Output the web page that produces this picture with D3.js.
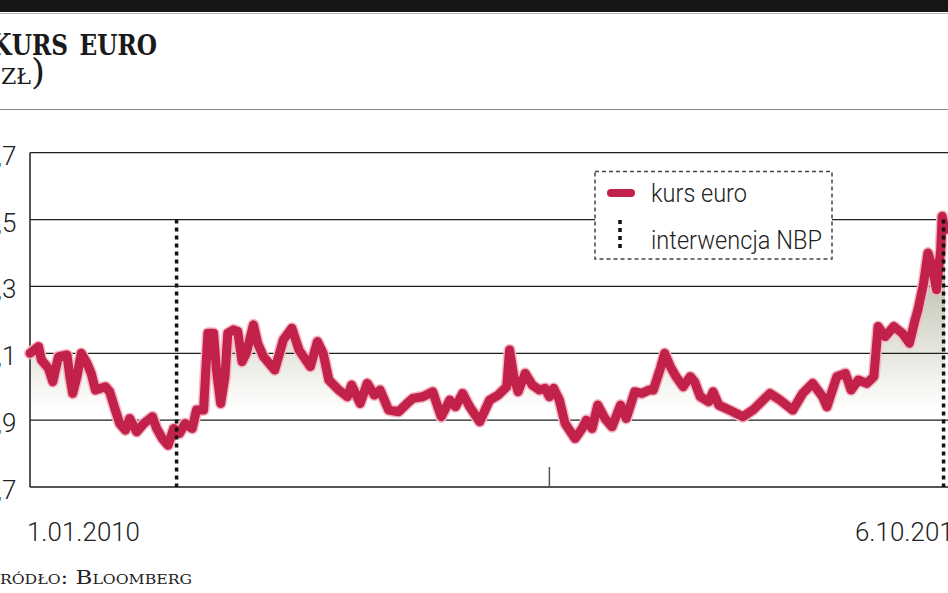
<!DOCTYPE html>
<html><head><meta charset="utf-8">
<script src="https://cdn.jsdelivr.net/npm/d3@7"></script>
<style>
html,body{margin:0;padding:0;background:#fff;overflow:hidden}
svg{display:block}
</style></head>
<body><svg id="c" width="948" height="593"></svg>
<script>
// ---- data (days since 1.01.2010, EUR/PLN) ----
const startDate = "2010-01-01";
const endDate = "2011-10-06";
const days = [0,6,8,13,16,20,26,28,30,33,36,40,43,46,53,56,60,63,67,70,75,80,86,89,93,97,101,105,109,114,117,122,125,129,131,134,137,139,143,146,149,152,157,160,164,172,178,184,189,197,202,206,210,217,223,226,232,237,242,246,252,259,265,269,276,283,289,295,299,304,309,316,323,329,335,337,340,343,348,353,358,362,365,368,372,376,383,388,391,395,399,404,409,415,419,425,430,435,438,443,446,450,454,459,464,467,471,477,480,484,489,494,501,508,520,527,536,543,550,557,560,567,573,577,582,588,593,596,601,607,613,618,622,624,628,631,634,637,640,641,643];
const values = [4.10,4.12,4.08,4.055,4.015,4.09,4.095,4.03,3.98,4.03,4.10,4.07,4.04,3.99,4.00,3.985,3.93,3.89,3.87,3.905,3.865,3.89,3.91,3.875,3.845,3.825,3.875,3.86,3.89,3.875,3.93,3.93,4.16,4.16,4.05,3.95,4.03,4.16,4.17,4.165,4.075,4.10,4.185,4.13,4.09,4.05,4.14,4.175,4.11,4.06,4.135,4.10,4.02,3.99,3.97,4.005,3.95,4.01,3.975,3.99,3.93,3.925,3.95,3.965,3.97,3.985,3.91,3.96,3.94,3.98,3.94,3.895,3.96,3.975,4.00,4.11,4.03,3.985,4.04,4.005,3.99,3.995,3.97,3.995,3.96,3.89,3.845,3.875,3.90,3.875,3.945,3.905,3.88,3.945,3.905,3.985,3.98,3.99,3.99,4.055,4.10,4.06,4.03,4.00,4.03,4.015,3.97,3.955,3.985,3.945,3.935,3.925,3.91,3.93,3.98,3.96,3.93,3.98,4.01,3.97,3.94,4.03,4.04,3.99,4.02,4.01,4.03,4.18,4.15,4.18,4.16,4.13,4.20,4.23,4.31,4.40,4.36,4.29,4.41,4.51,4.47];
const interventionDays = [103, 642];
const yTicks = [3.7,3.9,4.1,4.3,4.5,4.7];
const yTickLabels = ["3,7","3,9","4,1","4,3","4,5","4,7"];
const yearTickDate = "2011-01-01";
const xLabels = ["1.01.2010","6.10.2011"];
const titleText = ["K","urs euro"];
const unitText = ["(","zł",")"];
const sourceText = "Źródło: Bloomberg";
const legendLabels = ["kurs euro","interwencja NBP"];

// ---- helpers ----
const parse = d3.utcParse("%Y-%m-%d");
const t0 = parse(startDate);
const dayToDate = d => d3.utcDay.offset(t0, d);
const series = days.map((d,i)=>({date: dayToDate(d), v: values[i]}));

const svg = d3.select("#c");
const W = 948;
const x = d3.scaleUtc().domain([t0, parse(endDate)]).range([30, 945]);
const y = d3.scaleLinear().domain([3.7, 4.7]).range([487, 152.7]);

const labelFont = "Roboto, 'Liberation Sans', sans-serif";

// top bar and header
svg.append("rect").attr("x",0).attr("y",0).attr("width",W).attr("height",12).attr("fill","#161616");
svg.append("line").attr("x1",0).attr("x2",W).attr("y1",13.5).attr("y2",13.5).attr("stroke","#bbb").attr("stroke-width",1);

const title = svg.append("text").attr("x",-10).attr("y",55)
  .attr("font-family","'DejaVu Serif', serif").attr("font-weight","bold")
  .attr("font-size",30).attr("fill","#1a1a1a")
  .attr("textLength",167).attr("lengthAdjust","spacingAndGlyphs");
title.append("tspan").text(titleText[0]);
title.append("tspan").attr("font-size",40).style("font-variant","small-caps").text(titleText[1]);

const unit = svg.append("text").attr("x",-13).attr("y",84)
  .attr("font-family","'DejaVu Serif', serif").attr("fill","#1a1a1a").attr("font-size",30);
unit.append("tspan").attr("font-size",36).text(unitText[0]);
unit.append("tspan").style("font-variant","small-caps").attr("font-size",31).text(unitText[1]);
unit.append("tspan").attr("font-size",36).text(unitText[2]);

svg.append("line").attr("x1",0).attr("x2",W).attr("y1",109.5).attr("y2",109.5).attr("stroke","#8a8a8a").attr("stroke-width",1.2);

// gradient for area
const defs = svg.append("defs");
const grad = defs.append("linearGradient").attr("id","ag").attr("gradientUnits","userSpaceOnUse")
  .attr("x1",0).attr("x2",0).attr("y1",y(4.55)).attr("y2",y(3.93));
grad.append("stop").attr("offset","0%").attr("stop-color","#9c9c8a");
grad.append("stop").attr("offset","35%").attr("stop-color","#c2c2b4");
grad.append("stop").attr("offset","70%").attr("stop-color","#e4e4dc");
grad.append("stop").attr("offset","100%").attr("stop-color","#ffffff");

const area = d3.area().x(d=>x(d.date)).y0(y(3.7)).y1(d=>y(d.v)).curve(d3.curveLinear);
svg.append("path").datum(series).attr("d",area).attr("fill","url(#ag)");

// gridlines
svg.append("g").selectAll("line").data(yTicks.slice(1)).join("line")
  .attr("x1",30).attr("x2",W).attr("y1",d=>y(d)).attr("y2",d=>y(d))
  .attr("stroke","#1e1e1e").attr("stroke-width",1.3);
// bottom axis
svg.append("line").attr("x1",30).attr("x2",W).attr("y1",y(3.7)).attr("y2",y(3.7)).attr("stroke","#555").attr("stroke-width",2);
// left axis
svg.append("line").attr("x1",30).attr("x2",30).attr("y1",y(4.7)).attr("y2",y(3.7)).attr("stroke","#1e1e1e").attr("stroke-width",1.5);
// year tick
const yt = x(parse(yearTickDate));
svg.append("line").attr("x1",yt).attr("x2",yt).attr("y1",y(3.7)-20).attr("y2",y(3.7)).attr("stroke","#555").attr("stroke-width",1.5);

// y labels
svg.append("g").selectAll("text").data(yTicks).join("text")
  .attr("x",16.5).attr("y",d=>y(d)+12).attr("text-anchor","end")
  .attr("font-family",labelFont).attr("font-weight",300).attr("font-size",26).attr("fill","#222")
  .text((d,i)=>yTickLabels[i]);

// x labels
svg.append("text").attr("x",27).attr("y",541).attr("font-family",labelFont).attr("font-weight",300).attr("font-size",25).attr("fill","#222")
  .attr("textLength",113).attr("lengthAdjust","spacingAndGlyphs").text(xLabels[0]);
svg.append("text").attr("x",855).attr("y",541).attr("font-family",labelFont).attr("font-weight",300).attr("font-size",25).attr("fill","#222")
  .attr("textLength",113).attr("lengthAdjust","spacingAndGlyphs").text(xLabels[1]);

// line
const line = d3.line().x(d=>x(d.date)).y(d=>y(d.v)).curve(d3.curveLinear);
svg.append("path").datum(series).attr("d",line).attr("fill","none")
  .attr("stroke","#f3b9c6").attr("stroke-width",12).attr("stroke-linejoin","round").attr("stroke-linecap","round");
svg.append("path").datum(series).attr("d",line).attr("fill","none")
  .attr("stroke","#c2224a").attr("stroke-width",9).attr("stroke-linejoin","round").attr("stroke-linecap","round");

// intervention lines
svg.append("g").selectAll("line").data(interventionDays).join("line")
  .attr("x1",d=>x(dayToDate(d))).attr("x2",d=>x(dayToDate(d)))
  .attr("y1",y(4.5)).attr("y2",y(3.7))
  .attr("stroke","#111").attr("stroke-width",3.5).attr("stroke-dasharray","4,4");

// legend
const lg = svg.append("g");
lg.append("rect").attr("x",595).attr("y",171.5).attr("width",237).attr("height",87.5)
  .attr("fill","#fff").attr("stroke","#444").attr("stroke-width",1.5).attr("stroke-dasharray","4,3");
lg.append("line").attr("x1",611).attr("x2",631).attr("y1",193).attr("y2",193)
  .attr("stroke","#c2224a").attr("stroke-width",8).attr("stroke-linecap","round");
lg.append("line").attr("x1",620).attr("x2",620).attr("y1",220).attr("y2",251)
  .attr("stroke","#111").attr("stroke-width",3.5).attr("stroke-dasharray","4,4");
lg.append("text").attr("x",651).attr("y",202).attr("font-family",labelFont).attr("font-weight",300).attr("font-size",25).attr("fill","#222")
  .attr("textLength",96).attr("lengthAdjust","spacingAndGlyphs").text(legendLabels[0]);
lg.append("text").attr("x",651).attr("y",249).attr("font-family",labelFont).attr("font-weight",300).attr("font-size",25).attr("fill","#222")
  .attr("textLength",171).attr("lengthAdjust","spacingAndGlyphs").text(legendLabels[1]);

// source
svg.append("text").attr("x",-16).attr("y",584).attr("font-family","'DejaVu Serif', serif")
  .attr("font-size",19).style("font-variant","small-caps").attr("fill","#222")
  .attr("textLength",208).attr("lengthAdjust","spacingAndGlyphs").text(sourceText);
</script></body></html>
